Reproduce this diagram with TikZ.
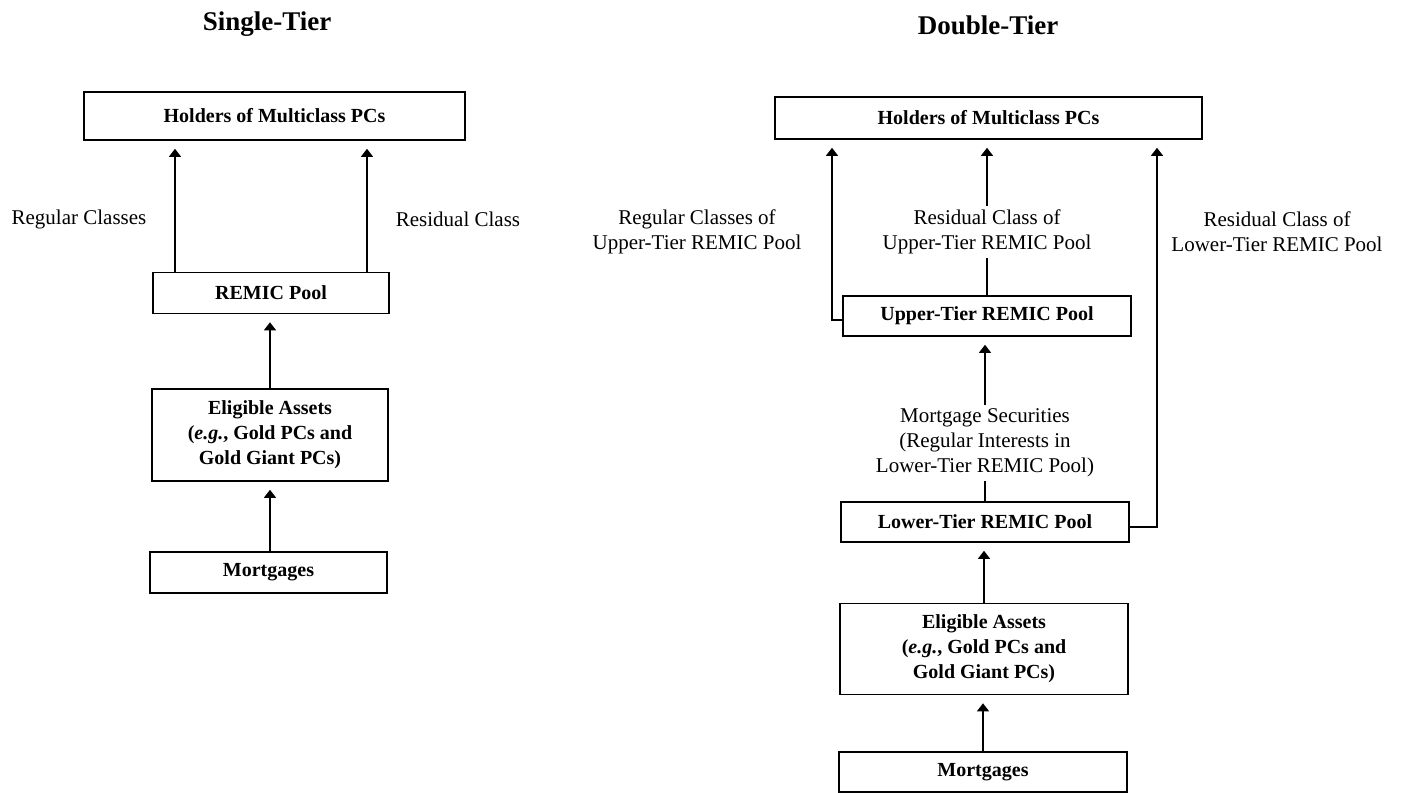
\documentclass[tikz,border=0pt]{standalone}
\usepackage{fontspec}
\setmainfont{Liberation Serif}
\usetikzlibrary{arrows.meta}
\begin{document}
\begin{tikzpicture}[x=1pt,y=-1pt]
\tikzset{
 box/.style={draw, line width=1.6pt, font=\fontsize{20}{25}\selectfont\bfseries, align=center, inner sep=0pt},
 lbl/.style={font=\fontsize{21}{25}\selectfont, align=center, inner sep=0pt},
 ttl/.style={font=\fontsize{27}{30}\selectfont\bfseries, inner sep=0pt},
 conn/.style={line width=1.3pt},
 arr/.style={conn, -{Triangle[width=12pt,length=8pt]}, shorten >=8pt},
}
\useasboundingbox (0,0) rectangle (1404,792);
% ---------- Single-Tier ----------
\node[ttl] (t1) at (267,24) {Single-Tier};
\node[box, minimum width=381pt, minimum height=48pt] (hold1) at (274.5,116) {Holders of Multiclass PCs};
\node[box, minimum width=236pt, minimum height=41pt] (remic1) at (271,293) {REMIC Pool};
\node[box, minimum width=236pt, minimum height=92pt] (elig1) at (270,435) {Eligible Assets\\(\textit{e.g.}, Gold PCs and\\Gold Giant PCs)};
\node[box, minimum width=237pt, minimum height=41pt] (mort1) at (268.5,572.5) {Mortgages};
\node[lbl] (rc1) at (79,219) {Regular Classes};
\node[lbl] (rs1) at (458,219) {Residual Class};
\coordinate (a1) at (175,0);
\coordinate (a2) at (367,0);
\coordinate (a3) at (270,0);
\draw[arr] (remic1.north -| a1) -- (hold1.south -| a1);
\draw[arr] (remic1.north -| a2) -- (hold1.south -| a2);
\draw[arr] (elig1.north -| a3) -- (remic1.south -| a3);
\draw[arr] (mort1.north -| a3) -- (elig1.south -| a3);
% ---------- Double-Tier ----------
\node[ttl] (t2) at (988,25) {Double-Tier};
\node[box, minimum width=427pt, minimum height=42pt] (hold2) at (988.5,118) {Holders of Multiclass PCs};
\node[box, minimum width=288pt, minimum height=40pt] (upper) at (987,316) {Upper-Tier REMIC Pool};
\node[box, minimum width=288pt, minimum height=40pt] (lower) at (985,522) {Lower-Tier REMIC Pool};
\node[box, minimum width=288pt, minimum height=91pt] (elig2) at (984,649) {Eligible Assets\\(\textit{e.g.}, Gold PCs and\\Gold Giant PCs)};
\node[box, minimum width=288pt, minimum height=40pt] (mort2) at (983,772) {Mortgages};
\node[lbl] (rc2) at (697,232) {Regular Classes of\\Upper-Tier REMIC Pool};
\node[lbl, inner ysep=4pt] (ru2) at (987,232) {Residual Class of\\Upper-Tier REMIC Pool};
\node[lbl] (rl2) at (1277,232) {Residual Class of\\Lower-Tier REMIC Pool};
\node[lbl, inner ysep=4pt] (ms2) at (985,443) {Mortgage Securities\\(Regular Interests in\\Lower-Tier REMIC Pool)};
\coordinate (cl) at (832,320);
\coordinate (cr) at (1157,527);
\draw[arr] (upper.west |- cl) -- (cl) -- (hold2.south -| cl);
\draw[arr] (lower.east |- cr) -- (cr) -- (hold2.south -| cr);
\draw[conn] (upper.north) -- (ru2.south -| upper.north);
\draw[arr] (ru2.north -| upper.north) -- (hold2.south -| upper.north);
\draw[conn] (lower.north) -- (ms2.south -| lower.north);
\draw[arr] (ms2.north -| lower.north) -- (upper.south -| lower.north);
\draw[arr] (elig2.north) -- (lower.south -| elig2.north);
\draw[arr] (mort2.north) -- (elig2.south -| mort2.north);
\end{tikzpicture}
\end{document}
